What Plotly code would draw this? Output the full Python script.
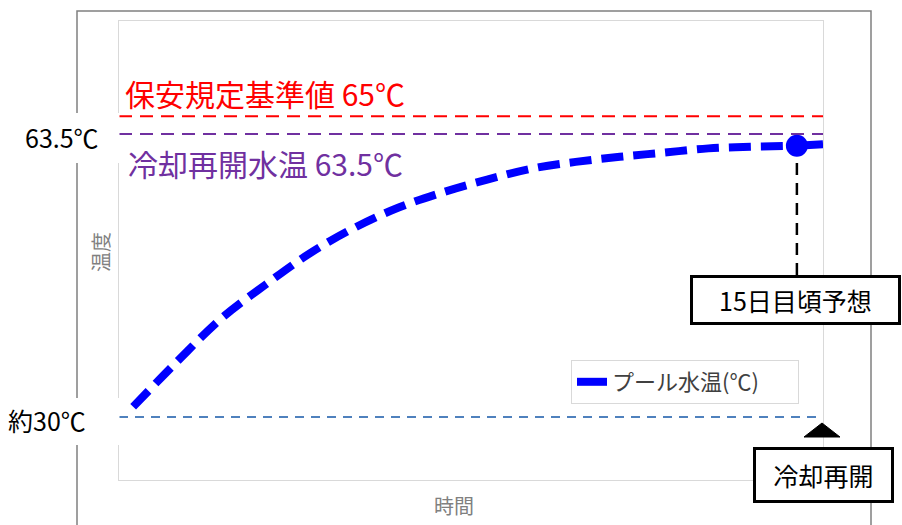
import plotly.graph_objects as go

# ---------------- data ----------------
DAYS = [0, 1, 2, 3, 4, 5, 6, 7, 8, 9, 10, 11, 12, 13, 14, 15, 15.59]
POOL_TEMP = [31.2, 36.6, 41.7, 45.7, 49.4, 52.4, 54.8, 56.6, 58.1, 59.4,
             60.2, 60.8, 61.3, 61.8, 62.0, 62.1, 62.3]
FORECAST_DAY = 15          # index of the forecast point in DAYS
SAFETY_LEVEL = 65.6        # schematic position of the 65℃ line
RESTART_LEVEL = 63.5
START_LEVEL = 30

SERIES_NAME = "プール水温(℃)"
SAFETY_LABEL = "保安規定基準値 65℃"
RESTART_LABEL = "冷却再開水温 63.5℃"
TICK_HIGH = "63.5℃"
TICK_LOW = "約30℃"
Y_TITLE = "温度"
X_TITLE = "時間"
FORECAST_LABEL = "15日目頃予想"
RESTART_BOX = "冷却再開"

# ---------------- layout geometry ----------------
W, H = 902, 525
L, R, T, B = 119, 823, 21, 480
X_RANGE = [-0.32, 15.59]
Y_RANGE = [22.54, 76.88]
FONT = "Noto Sans CJK JP"


def xp(px):
    return (px - L) / (R - L)


def yp(py):
    return (B - py) / (B - T)


fig = go.Figure()

# dashed prediction curve
fig.add_trace(go.Scatter(
    x=DAYS[:FORECAST_DAY + 1], y=POOL_TEMP[:FORECAST_DAY + 1],
    mode="lines", line=dict(color="#0000FF", width=8, dash="22px,10px", shape="spline"),
    showlegend=False, hoverinfo="skip"))
# solid tail after the forecast point (also legend entry)
fig.add_trace(go.Scatter(
    x=DAYS[FORECAST_DAY:], y=POOL_TEMP[FORECAST_DAY:],
    mode="lines", line=dict(color="#0000FF", width=8),
    name=SERIES_NAME, showlegend=True))
# forecast marker
fig.add_trace(go.Scatter(
    x=[DAYS[FORECAST_DAY]], y=[POOL_TEMP[FORECAST_DAY]],
    mode="markers", marker=dict(color="#0000FF", size=22),
    showlegend=False))

shapes = []
# outer frame
shapes.append(dict(type="rect", xref="paper", yref="paper",
                   x0=xp(77), x1=xp(871), y0=yp(560), y1=yp(11),
                   line=dict(color="#808080", width=1.5), layer="below"))
# reference lines
shapes.append(dict(type="line", xref="paper", yref="y", x0=0, x1=1,
                   y0=SAFETY_LEVEL, y1=SAFETY_LEVEL,
                   line=dict(color="#FF0000", width=2, dash="13px,8px"), layer="below"))
shapes.append(dict(type="line", xref="paper", yref="y", x0=0, x1=1,
                   y0=RESTART_LEVEL, y1=RESTART_LEVEL,
                   line=dict(color="#7030A0", width=2, dash="13px,8px"), layer="below"))
shapes.append(dict(type="line", xref="paper", yref="y", x0=0, x1=1,
                   y0=START_LEVEL, y1=START_LEVEL,
                   line=dict(color="#4F81BD", width=2, dash="9px,7px"), layer="below"))
# vertical dashed line from forecast point down to the label box
shapes.append(dict(type="line", xref="x", yref="paper",
                   x0=DAYS[FORECAST_DAY], x1=DAYS[FORECAST_DAY],
                   y0=yp(275), y1=yp(146),
                   line=dict(color="#000000", width=2.5, dash="12px,8px"), layer="below"))
# white cut-outs behind left labels
shapes.append(dict(type="rect", xref="paper", yref="paper",
                   x0=xp(60), x1=xp(119.5), y0=yp(163), y1=yp(113),
                   line=dict(width=0), fillcolor="white", layer="above"))
shapes.append(dict(type="rect", xref="paper", yref="paper",
                   x0=xp(60), x1=xp(119.5), y0=yp(445), y1=yp(398),
                   line=dict(width=0), fillcolor="white", layer="above"))
# triangle marker pointing to restart
shapes.append(dict(type="path", xref="paper", yref="paper",
                   path=f"M {xp(822)},{yp(423)} L {xp(804)},{yp(437)} L {xp(840)},{yp(437)} Z",
                   fillcolor="black", line=dict(color="black", width=1), layer="above"))

annotations = [
    dict(text=SAFETY_LABEL, xref="paper", yref="paper", x=xp(123), y=yp(93),
         xanchor="left", yanchor="middle", showarrow=False,
         font=dict(family=FONT, size=30, color="#FF0000")),
    dict(text=RESTART_LABEL, xref="paper", yref="paper", x=xp(126), y=yp(163),
         xanchor="left", yanchor="middle", showarrow=False,
         font=dict(family=FONT, size=30, color="#7030A0")),
    dict(text=TICK_HIGH, xref="paper", yref="paper", x=xp(101), y=yp(137),
         xanchor="right", yanchor="middle", showarrow=False,
         font=dict(family=FONT, size=25, color="#000000")),
    dict(text=TICK_LOW, xref="paper", yref="paper", x=xp(88), y=yp(420),
         xanchor="right", yanchor="middle", showarrow=False,
         font=dict(family=FONT, size=25, color="#000000")),
    dict(text=Y_TITLE, xref="paper", yref="paper", x=xp(100), y=yp(252),
         xanchor="center", yanchor="middle", showarrow=False, textangle=-90,
         font=dict(family=FONT, size=20, color="#808080")),
    dict(text=X_TITLE, xref="paper", yref="paper", x=xp(454), y=yp(505),
         xanchor="center", yanchor="middle", showarrow=False,
         font=dict(family=FONT, size=20, color="#808080")),
    dict(text=FORECAST_LABEL, xref="paper", yref="paper", x=xp(795.5), y=yp(300),
         xanchor="center", yanchor="middle", showarrow=False,
         width=203, height=42, borderpad=1, borderwidth=3,
         bordercolor="#000000", bgcolor="#FFFFFF",
         font=dict(family=FONT, size=25, color="#000000")),
    dict(text=RESTART_BOX, xref="paper", yref="paper", x=xp(823.5), y=yp(475),
         xanchor="center", yanchor="middle", showarrow=False,
         width=133, height=48, borderpad=1, borderwidth=3,
         bordercolor="#000000", bgcolor="#FFFFFF",
         font=dict(family=FONT, size=25, color="#000000")),
]

axis_common = dict(showticklabels=False, ticks="", showgrid=False, zeroline=False,
                   showline=True, mirror=True, linecolor="#D9D9D9", linewidth=1,
                   fixedrange=True)

fig.update_layout(
    width=W, height=H,
    margin=dict(l=L, r=W - R, t=T, b=H - B, pad=0),
    paper_bgcolor="white", plot_bgcolor="white",
    xaxis=dict(range=X_RANGE, **axis_common),
    yaxis=dict(range=Y_RANGE, **axis_common),
    shapes=shapes, annotations=annotations,
    showlegend=True,
    legend=dict(x=xp(571), y=yp(360), xanchor="left", yanchor="top",
                orientation="h",
                bgcolor="white", bordercolor="#D9D9D9", borderwidth=1,
                font=dict(family=FONT, size=22, color="#404040"),
                itemwidth=30, entrywidth=181, entrywidthmode="pixels"),
    font=dict(family=FONT),
)

fig.write_html("out.html")
